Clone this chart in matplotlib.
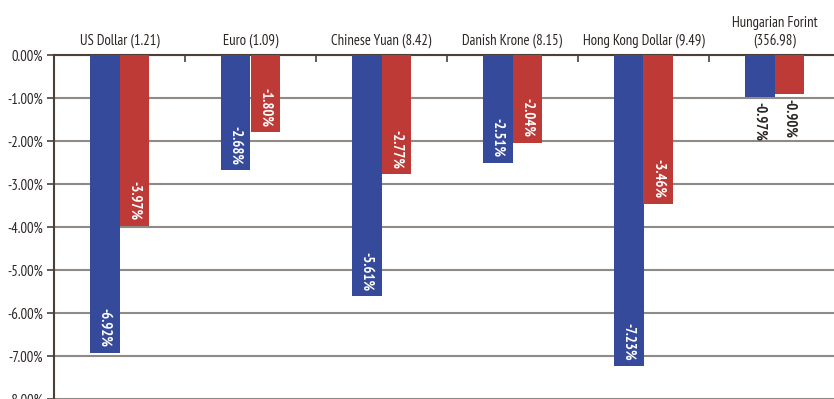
import matplotlib
matplotlib.use("Agg")
import matplotlib.pyplot as plt
import numpy as np

categories = ["US Dollar (1.21)", "Euro (1.09)", "Chinese Yuan (8.42)",
              "Danish Krone (8.15)", "Hong Kong Dollar (9.49)", "Hungarian Forint\n(356.98)"]
series_a = [-6.92, -2.68, -5.61, -2.51, -7.23, -0.97]
series_b = [-3.97, -1.80, -2.77, -2.04, -3.46, -0.90]
a_labels = ["-6.92%", "-2.68%", "-5.61%", "-2.51%", "-7.23%", "-0.97%"]
b_labels = ["-3.97%", "-1.80%", "-2.77%", "-2.04%", "-3.46%", "-0.90%"]
yticks = [0, -1, -2, -3, -4, -5, -6, -7, -8]

plt.rcParams['font.family'] = ['PT Sans Narrow', 'DejaVu Sans']
plt.rcParams['axes.unicode_minus'] = False

blue = "#354a9a"
red = "#be3a36"
txt = "#2b2523"

fig = plt.figure(figsize=(8.34, 3.99), dpi=100)
ax = fig.add_axes([54/834, 0.0, 786/834, 344/399])

x = np.arange(len(categories))
w = 0.229
ax.bar(x - w/2, series_a, w, color=blue, zorder=3)
ax.bar(x + w/2, series_b, w, color=red, zorder=3)

ax.set_ylim(-8, 0)
ax.set_xlim(-0.5, len(categories) - 0.5)
ax.set_yticks(yticks)
ax.set_yticklabels([f"{v:.2f}%" for v in yticks], fontsize=10.5, color=txt)
ax.yaxis.grid(True, color="#8f8a85", linewidth=1.5, zorder=0)
ax.set_axisbelow(True)

ax.xaxis.tick_top()
ax.set_xticks(x)
ax.set_xticklabels(categories, fontsize=10.5, color=txt, linespacing=1.3)
ax.set_xticks(np.arange(len(categories) + 1) - 0.5, minor=True)
ax.tick_params(axis='x', which='major', length=0, pad=5)
ax.tick_params(axis='x', which='minor', direction='in', length=5, width=1.2, color="#4a4038")
ax.tick_params(axis='y', length=5, width=1.2, color="#4a4038", pad=3)

for s in ["right", "bottom"]:
    ax.spines[s].set_visible(False)
ax.spines["top"].set_color("#4a4038")
ax.spines["top"].set_linewidth(1.5)
ax.spines["left"].set_color("#4a4038")
ax.spines["left"].set_linewidth(1.5)

def place(xpos, val, lab):
    if val < -1.5:
        ax.annotate(lab, (xpos, val), xytext=(0, 4), textcoords="offset points",
                    rotation=-90, ha="center", va="bottom", color="white",
                    fontsize=10.5, fontweight="bold", zorder=4)
    else:
        ax.annotate(lab, (xpos, val), xytext=(0, -4), textcoords="offset points",
                    rotation=-90, ha="center", va="top", color=txt,
                    fontsize=10.5, fontweight="bold", zorder=4)

for i in range(len(categories)):
    place(x[i] - w/2, series_a[i], a_labels[i])
    place(x[i] + w/2, series_b[i], b_labels[i])

fig.savefig("out.png", dpi=100)
